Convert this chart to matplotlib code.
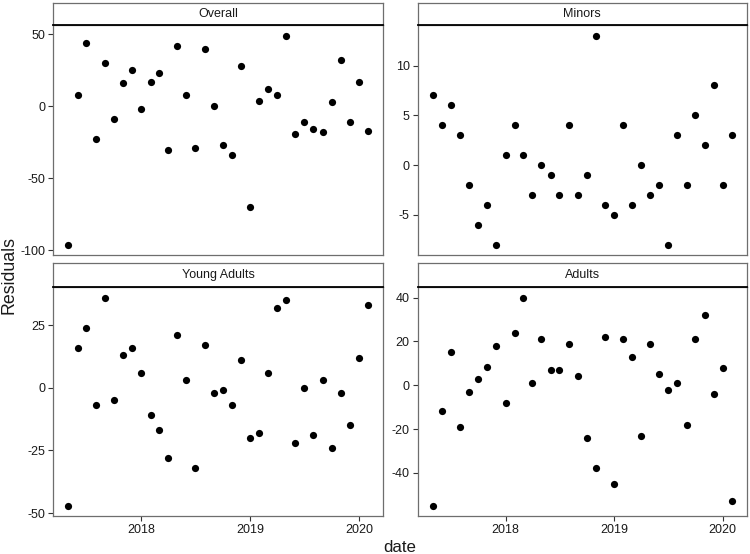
import numpy as np
import pandas as pd
import matplotlib
matplotlib.use("Agg")
import matplotlib.pyplot as plt
import matplotlib.dates as mdates

plt.rcParams['font.family'] = ['Liberation Sans', 'DejaVu Sans']

# monthly residuals, May 2017 - Feb 2020
dates = pd.date_range('2017-05-01', periods=34, freq='MS')

overall = [-96, 8, 44, -23, 30, -9, 16, 25, -2, 17, 23, -30, 42, 8, -29, 40, 0,
           -27, -34, 28, -70, 4, 12, 8, 49, -19, -11, -16, -18, 3, 32, -11, 17, -17]
minors = [7, 4, 6, 3, -2, -6, -4, -8, 1, 4, 1, -3, 0, -1, -3, 4, -3, -1, 13,
          -4, -5, 4, -4, 0, -3, -2, -8, 3, -2, 5, 2, 8, -2, 3]
young_adults = [-47, 16, 24, -7, 36, -5, 13, 16, 6, -11, -17, -28, 21, 3, -32, 17,
                -2, -1, -7, 11, -20, -18, 6, 32, 35, -22, 0, -19, 3, -24, -2, -15, 12, 33]
adults = [-55, -12, 15, -19, -3, 3, 8.5, 18, -8, 24, 40, 1, 21, 7, 7, 19, 4, -24,
          -38, 22, -45, 21, 13, -23, 19, 5, -2, 1, -18, 21, 32, -4, 8, -53]

panels = ['Overall', 'Minors', 'Young Adults', 'Adults']
series = [overall, minors, young_adults, adults]
yticks = [[-100, -50, 0, 50], [-5, 0, 5, 10], [-50, -25, 0, 25], [-40, -20, 0, 20, 40]]

W, H = 750, 554
fig = plt.figure(figsize=(W / 100, H / 100), dpi=100)

# pixel boxes: (left, right), (strip top, panel top, panel bottom)
cols = [(53.3, 383.3), (417.7, 747.0)]
rows = [(2.7, 25.3, 255.0), (263.3, 287.3, 516.0)]

border = '#6e6e6e'
txt = '#1a1a1a'

for i, (name, vals, yt) in enumerate(zip(panels, series, yticks)):
    r, c = divmod(i, 2)
    x0, x1 = cols[c]
    s0, p0, p1 = rows[r]
    ax = fig.add_axes([x0 / W, 1 - p1 / H, (x1 - x0) / W, (p1 - p0) / H])
    ax.scatter(dates, vals, s=27, color='black', linewidths=0, zorder=3)
    ax.set_yticks(yt)
    ax.set_yticklabels([str(v) for v in yt])
    ax.xaxis.set_major_locator(mdates.YearLocator())
    ax.xaxis.set_major_formatter(mdates.DateFormatter('%Y'))
    ax.margins(x=0.05, y=0.05)
    for sp in ax.spines.values():
        sp.set_color(border)
        sp.set_linewidth(0.9)
    ax.tick_params(axis='both', length=3.8, width=0.8, color='#333333',
                   labelsize=9, labelcolor=txt, pad=2)
    if r == 0:
        ax.tick_params(axis='x', bottom=False, labelbottom=False)

    # facet strip
    st = fig.add_axes([x0 / W, 1 - p0 / H, (x1 - x0) / W, (p0 - s0) / H])
    st.set_xticks([])
    st.set_yticks([])
    for sp in st.spines.values():
        sp.set_color(border)
        sp.set_linewidth(0.9)
    st.spines['bottom'].set_color('black')
    st.spines['bottom'].set_linewidth(1.3)
    st.text(0.5, 0.5, name, ha='center', va='center', fontsize=9, color=txt,
            transform=st.transAxes)

fig.text(400 / W, 1 - 552 / H, 'date', ha='center', va='baseline', fontsize=12.2, color=txt)
fig.text(9.5 / W, 1 - 275 / H, 'Residuals', ha='center', va='center', rotation=90,
         fontsize=12.8, color=txt)

fig.savefig('out.png', dpi=100)
